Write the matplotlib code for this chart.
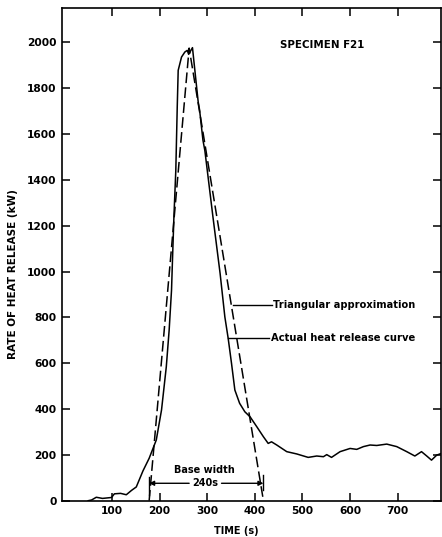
import matplotlib
matplotlib.use("Agg")
import matplotlib.pyplot as plt

# actual heat release curve (solid)
time_actual = [50, 57, 67, 80, 99, 105, 118, 130, 141, 151, 165, 178, 193, 204,
               214, 220, 225, 227, 230, 234, 237, 239, 246, 253, 258, 261, 269,
               274, 281, 284, 291, 295, 312, 327, 337, 344, 351, 358, 368, 379,
               390, 404, 418, 428, 435, 446, 467, 488, 512, 530, 544, 551, 561,
               579, 600, 614, 628, 642, 656, 677, 698, 719, 736, 750, 761, 771,
               782, 790]
hrr_actual = [0, 3, 15, 10, 14, 30, 32, 26, 45, 60, 130, 185, 265, 396,
              584, 744, 919, 1050, 1238, 1442, 1718, 1878, 1936, 1958, 1965, 1948, 1977,
              1878, 1740, 1704, 1573, 1528, 1238, 992, 802, 708, 599, 483, 425, 388,
              366, 323, 279, 250, 257, 243, 214, 204, 189, 195, 192, 201, 189,
              214, 228, 224, 236, 243, 241, 247, 236, 214, 195, 214, 195, 177,
              199, 205]

# triangular approximation (dashed)
time_tri = [178, 262, 418]
hrr_tri = [0, 1975, 0]

x_ticks = [100, 200, 300, 400, 500, 600, 700]
y_ticks = [0, 200, 400, 600, 800, 1000, 1200, 1400, 1600, 1800, 2000]

fig = plt.figure(figsize=(4.42, 5.37), dpi=100)
ax = fig.add_axes([0.1403, 0.0676, 0.8575, 0.9175])

ax.plot(time_actual, hrr_actual, color="black", linewidth=1.1)
ax.plot(time_tri, hrr_tri, color="black", linewidth=1.1, dashes=(7, 2.8))

ax.set_xlim(-5, 791)
ax.set_ylim(0, 2150)
ax.set_xticks(x_ticks)
ax.set_yticks(y_ticks)
ax.tick_params(direction="in", length=6, width=1.1, top=True, right=True,
               labelsize=7.7, pad=4)
for lab in ax.get_xticklabels() + ax.get_yticklabels():
    lab.set_fontweight("bold")
for s in ax.spines.values():
    s.set_linewidth(1.2)

fig.text(13 / 442, 1 - 274 / 537, "RATE OF HEAT RELEASE (kW)", rotation=90,
         ha="center", va="center", fontsize=7.5, fontweight="bold")
fig.text(236 / 442, 1 - 531 / 537, "TIME (s)", ha="center", va="center",
         fontsize=7, fontweight="bold")

ax.text(541, 1990, "SPECIMEN F21", ha="center", va="center", fontsize=7.4,
        fontweight="bold")

# leader lines to the two curves
ax.plot([354, 435], [853, 853], color="black", linewidth=1.0)
ax.text(438, 853, "Triangular approximation", ha="left", va="center",
        fontsize=7.1, fontweight="bold")
ax.plot([344, 430], [708, 708], color="black", linewidth=1.0)
ax.text(433, 708, "Actual heat release curve", ha="left", va="center",
        fontsize=7.2, fontweight="bold")

# base width marker
left, right = time_tri[0], time_tri[-1]
ax.plot([left, left], [25, 105], color="black", linewidth=1.0)
ax.plot([right, right], [45, 112], color="black", linewidth=1.0)
arrow = dict(arrowstyle="-|>", color="black", lw=1.0, mutation_scale=7,
             shrinkA=0, shrinkB=0)
ax.annotate("", xy=(left, 76), xytext=(262, 76), arrowprops=arrow)
ax.annotate("", xy=(right, 76), xytext=(330, 76), arrowprops=arrow)
ax.text(295, 76, "240s", ha="center", va="center", fontsize=7,
        fontweight="bold")
ax.text(293, 136, "Base width", ha="center", va="center", fontsize=7,
        fontweight="bold")

fig.savefig("out.png", dpi=100)
